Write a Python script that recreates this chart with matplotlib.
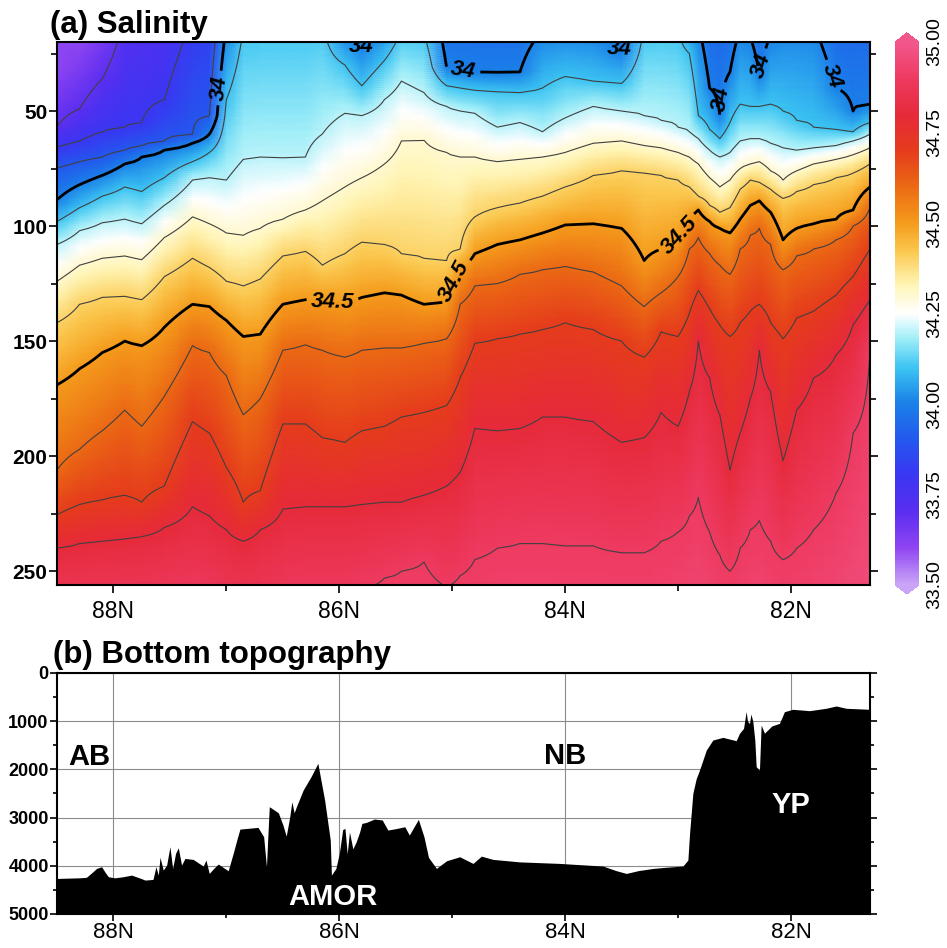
import numpy as np
import matplotlib.pyplot as plt
from matplotlib.colors import LinearSegmentedColormap

plt.rcParams['font.family'] = ['Liberation Sans', 'DejaVu Sans']

# station latitudes along the section (deg N)
lat_st = [88.5, 88.3, 88.1, 87.9, 87.75, 87.55, 87.3, 87.15, 87.0, 86.85,
          86.7, 86.5, 86.3, 86.15, 85.95, 85.8, 85.6, 85.45, 85.25, 85.05,
          84.93, 84.8, 84.6, 84.4, 84.2, 84.0, 83.75, 83.5, 83.3, 83.15,
          83.0, 82.9, 82.82, 82.72, 82.63, 82.54, 82.45, 82.36, 82.28, 82.18,
          82.07, 81.95, 81.8, 81.6, 81.45, 81.3]

# depth (m) of each isohaline at every station;
# values above 20 m or below 256 m are outside the plotted window
z336 = [30, 20, 5, -10, -20, -30, -40, -45, -50, -50,
        -50, -50, -50, -50, -50, -50, -50, -50, -50, -50,
        -50, -50, -50, -50, -50, -50, -50, -50, -50, -50,
        -50, -50, -50, -50, -50, -50, -50, -50, -50, -50,
        -50, -50, -50, -50, -50, -50]
z337 = [57, 49, 36, 8, 0, -10, -20, -30, -40, -40,
        -40, -40, -40, -40, -40, -40, -40, -40, -40, -40,
        -40, -40, -40, -40, -40, -40, -40, -40, -40, -40,
        -40, -40, -40, -40, -40, -40, -40, -40, -40, -40,
        -40, -40, -40, -40, -40, -40]
z338 = [65.6, 63, 59, 57, 55, 45, 8, 0, -20, -25,
        -25, -25, -25, -25, -25, -25, -25, -25, -25, -25,
        -25, -25, -25, -25, -25, -25, -25, -25, -25, -25,
        -25, -25, -25, -25, -25, -25, -25, -25, -25, -25,
        -25, -25, -25, -25, -25, -25]
z339 = [74.7, 72, 70, 67, 65, 63, 60, 52, 5, -10,
        -10, -10, -10, -10, -10, -10, -10, -10, -10, -10,
        -10, -10, -10, -10, -10, -10, -10, -10, -10, -10,
        -10, -10, -10, -10, -10, -10, -10, -10, -10, -10,
        -10, -10, -10, -10, -10, -10]
z340 = [88.6, 82, 78, 73, 70, 67, 64, 60, 12, 2,
        2, 2, 2, 2, 16, 22, 12, 5, 12, 31,
        32, 33, 33.5, 33, 15, 14, 16, 24, 8, 5,
        5, 8, 12, 40, 52, 33, 14, 18, 34, 17,
        12, 10, 12, 40, 50, 47]
z341 = [98, 92, 87, 83, 85, 79, 72, 68, 45, 14,
        12, 12, 12, 10, 30, 39, 28, 15, 16, 39,
        40, 41, 41.5, 42, 40, 35, 37, 38, 14, 12,
        14, 25, 52, 58, 62, 55, 47, 48, 48, 47,
        50, 54, 57, 58, 59, 55]
z342 = [108, 102, 98.5, 97, 99, 91, 80, 79, 80, 71,
        70, 70.5, 70, 60, 51, 52, 45, 37, 42, 48,
        50, 51, 57, 55, 59, 53, 48, 50, 52, 54,
        57, 59, 62, 67, 70, 68, 63, 62, 62, 64,
        66, 67, 66, 65, 63, 60]
z343 = [124, 117, 114, 113, 114.6, 105, 96, 99, 103, 104,
        101, 97, 93, 89, 83, 79, 73, 63, 62.6, 68,
        70, 70, 72, 71, 70, 68, 64, 63, 65, 66,
        68, 70, 73, 79, 83, 80, 75, 73, 72, 76,
        80, 76, 73, 71, 69, 66]
z344 = [142, 134, 131, 130.5, 132, 122, 114, 118, 124, 126,
        123, 113, 111, 117, 112, 107, 108, 112, 114, 115,
        110, 96, 92, 90, 87, 83, 78, 76, 77, 78,
        80, 83, 87, 91, 94, 92, 84, 80, 81, 84,
        88, 85, 82, 79, 77, 73]
z345 = [169, 162, 155, 150, 152, 144, 134, 135, 141, 148,
        147, 134, 132, 132, 134, 131, 129, 130, 134, 133,
        119, 112, 108, 106, 103, 99.5, 99, 101, 115, 110,
        106, 97, 93, 98, 101, 103, 97, 91, 89, 94,
        106, 101, 99, 97, 93, 83]
z346 = [206, 197, 189, 180, 187, 174, 152, 155, 165, 182,
        175, 154, 151.5, 154, 157, 154, 153, 153, 151, 149,
        134, 126, 125, 121, 119, 117.5, 120, 126, 135, 129,
        122, 110, 105, 112, 117, 121, 110, 104, 101, 108,
        119, 113, 110, 106, 100, 92]
z347 = [225.5, 221, 219, 217, 220, 213, 185, 190, 205, 220,
        215, 186, 186, 192, 194, 189, 187, 183, 181, 178,
        166, 151, 149, 147, 145, 142, 145, 150, 157, 146,
        148, 138, 128, 136, 143, 148, 142, 137, 134, 142,
        149, 140, 137, 130, 122, 110]
z348 = [240, 238, 237, 236, 235, 231, 222, 226, 232, 237,
        232, 223, 222, 222, 222, 221, 220, 220, 217, 213,
        207, 188, 189, 188, 183, 183, 185, 194, 192, 181,
        187, 172, 150, 166, 182, 206, 190, 175, 154, 172,
        202, 180, 166, 156, 143, 132]
z349 = [268, 266, 266, 266, 266, 264, 262, 264, 268, 272,
        268, 264, 262, 262, 262, 258, 253, 250, 246, 257,
        252, 245, 240, 238, 238, 239, 239, 242, 242, 237,
        233, 226, 218, 233, 243, 250, 240, 232, 228, 237,
        245, 240, 232, 216, 190, 154]
z350 = 330  # 35.0 is never reached inside the window

iso_levels = [33.6, 33.7, 33.8, 33.9, 34.0, 34.1, 34.2, 34.3, 34.4,
              34.5, 34.6, 34.7, 34.8, 34.9, 35.0]

# bottom topography along the section
bathy_lat = [88.5, 88.3, 88.24, 88.18, 88.15, 88.105, 88.07, 88.045, 87.99, 87.92,
             87.84, 87.76, 87.72, 87.65, 87.624, 87.603, 87.588, 87.559, 87.529, 87.5,
             87.476, 87.45, 87.426, 87.397, 87.367, 87.294, 87.205, 87.181, 87.152, 87.11,
             87.072, 86.984, 86.94, 86.9, 86.88, 86.72, 86.67, 86.645, 86.635, 86.62,
             86.54, 86.5, 86.47, 86.44, 86.42, 86.4, 86.38, 86.32, 86.25, 86.19,
             86.13, 86.08, 86.07, 86.03, 86.0, 85.97, 85.95, 85.93, 85.91, 85.88,
             85.85, 85.82, 85.8, 85.76, 85.69, 85.62, 85.57, 85.5, 85.42, 85.38,
             85.3, 85.25, 85.21, 85.14, 85.05, 84.934, 84.816, 84.742, 84.639, 84.4,
             84.049, 83.85, 83.665, 83.55, 83.458, 83.35, 83.22, 83.1, 82.957, 82.913,
             82.898, 82.869, 82.84, 82.81, 82.75, 82.692, 82.603, 82.485, 82.456, 82.42,
             82.397, 82.385, 82.367, 82.355, 82.338, 82.32, 82.308, 82.279, 82.264, 82.235,
             82.17, 82.102, 82.058, 81.984, 81.836, 81.69, 81.6, 81.51, 81.3]
bathy_depth = [4263, 4250, 4240, 4120, 4055, 4020, 4150, 4228, 4250, 4230,
               4194, 4260, 4297, 4283, 4020, 4194, 3827, 4090, 3986, 3605,
               4055, 3744, 3626, 3986, 3848, 3868, 4007, 3882, 4159, 4050,
               3965, 4104, 3744, 3400, 3239, 3204, 3398, 4020, 3500, 2775,
               2900, 3150, 3384, 3000, 2671, 2900, 2775, 2429, 2150, 1875,
               2637, 3467, 4194, 4055, 3744, 3250, 3225, 3750, 3300, 3650,
               3500, 3300, 3121, 3100, 3031, 3050, 3259, 3230, 3190, 3363,
               3038, 3400, 3827, 4055, 3896, 3813, 3951, 3800, 3868, 3920,
               3951, 3980, 4006, 4100, 4159, 4100, 4055, 4030, 4006, 3882,
               3329, 2498, 2200, 2014, 1600, 1391, 1336, 1405, 1252, 1150,
               803, 1000, 1050, 850, 1000, 1400, 1944, 2014, 1080, 1250,
               1100, 1045, 803, 754, 782, 733, 685, 733, 754]

# ---- build salinity field from the isohaline depths ----
iso = np.array([z336, z337, z338, z339, z340, z341, z342, z343, z344,
                z345, z346, z347, z348, z349, [z350] * len(lat_st)], dtype=float)
zgrid = np.arange(20, 257, 1.0)
sal = np.empty((len(zgrid), len(lat_st)))
for j in range(len(lat_st)):
    sal[:, j] = np.interp(zgrid, iso[:, j], iso_levels)
LAT, Z = np.meshgrid(lat_st, zgrid)

nodes = [33.50, 33.60, 33.70, 33.80, 33.90, 34.00, 34.10, 34.18, 34.25,
         34.33, 34.42, 34.50, 34.60, 34.70, 34.80, 34.90, 35.00]
cols = ['#c9a4f7', '#8f45f2', '#5b2ef0', '#3a36f2', '#2458ee', '#1a80e8',
        '#3cc4f2', '#a0eef8', '#ffffff', '#fff5b5', '#fbc950', '#f59c1c',
        '#eb6a14', '#e53c1c', '#e62a3a', '#ee3a60', '#f2578c']
cmap = LinearSegmentedColormap.from_list(
    'sal', [((v - 33.5) / 1.5, c) for v, c in zip(nodes, cols)])

fig = plt.figure(figsize=(9.47, 9.48), dpi=100)
ax1 = fig.add_axes([0.0602, 0.3829, 0.8585, 0.5728])
ax2 = fig.add_axes([0.0602, 0.0359, 0.8585, 0.2542])
cax = fig.add_axes([0.9451, 0.3734, 0.0253, 0.5918])

# (a) salinity section
pm = ax1.pcolormesh(LAT, Z, sal, cmap=cmap, vmin=33.5, vmax=35.0,
                    shading='gouraud', rasterized=True)
thin = [33.7, 33.8, 33.9, 34.1, 34.2, 34.3, 34.4, 34.6, 34.7, 34.8, 34.9]
ax1.contour(LAT, Z, sal, levels=thin, colors='0.25', linewidths=0.8)
cs = ax1.contour(LAT, Z, sal, levels=[34.0, 34.5], colors='black',
                 linewidths=2.0)
label_pos = [(87.06, 40), (85.88, 24), (84.9, 31), (83.54, 24), (82.6, 45),
             (82.27, 30), (81.64, 35), (86.06, 134), (84.93, 125), (83.0, 104)]
txts = ax1.clabel(cs, fmt={34.0: '34', 34.5: '34.5'}, manual=label_pos,
                  inline=True, fontsize=16)
for t in txts:
    t.set_fontweight('bold')
    t.set_fontstyle('italic')

ax1.set_xlim(88.5, 81.3)
ax1.set_ylim(256, 20)
ax1.set_xticks([88, 86, 84, 82])
ax1.set_xticklabels(['88N', '86N', '84N', '82N'])
ax1.set_xticks([87, 85, 83], minor=True)
ax1.set_yticks([50, 100, 150, 200, 250])
ax1.set_yticks([25, 75, 125, 175, 225], minor=True)
ax1.tick_params(which='both', direction='out', right=True, width=1.2)
ax1.tick_params(which='major', length=6)
ax1.tick_params(which='minor', length=4)
ax1.tick_params(axis='y', labelsize=15, pad=1)
ax1.tick_params(axis='x', labelsize=16.5, pad=5)
for lab in ax1.get_yticklabels():
    lab.set_fontweight('bold')
for sp in ax1.spines.values():
    sp.set_linewidth(1.5)

cb = fig.colorbar(pm, cax=cax, extend='both', extendfrac=0.0166,
                  ticks=[33.5, 33.75, 34.0, 34.25, 34.5, 34.75, 35.0],
                  format='%.2f')
cb.outline.set_visible(False)
cb.ax.tick_params(length=0, labelsize=14, pad=5)
for t in cb.ax.get_yticklabels():
    t.set_rotation(90)
    t.set_va('center')

fig.text(0.0528, 0.9652, '(a) Salinity', fontsize=22.5, fontweight='bold',
         va='baseline', ha='left')

# (b) bottom topography
ax2.set_axisbelow(True)
ax2.grid(True, which='major', color='0.55', linewidth=0.8)
ax2.fill_between(bathy_lat, bathy_depth, 5000, color='black', linewidth=0)
ax2.set_xlim(88.5, 81.3)
ax2.set_ylim(5000, 0)
ax2.set_xticks([88, 86, 84, 82])
ax2.set_xticklabels(['88N', '86N', '84N', '82N'])
ax2.set_xticks([87, 85, 83], minor=True)
ax2.set_yticks([0, 1000, 2000, 3000, 4000, 5000])
ax2.set_yticks([500, 1500, 2500, 3500, 4500], minor=True)
ax2.tick_params(which='both', direction='out', right=True, width=1.2)
ax2.tick_params(which='major', length=5)
ax2.tick_params(which='minor', length=3)
ax2.tick_params(axis='y', labelsize=13, pad=1)
ax2.tick_params(axis='x', labelsize=16, pad=1)
for lab in ax2.get_yticklabels():
    lab.set_fontweight('bold')
for sp in ax2.spines.values():
    sp.set_linewidth(1.5)

ax2.text(88.21, 1736, 'AB', ha='center', va='center', fontsize=21,
         fontweight='bold')
ax2.text(84.0, 1716, 'NB', ha='center', va='center', fontsize=21,
         fontweight='bold')
ax2.text(82.0, 2739, 'YP', ha='center', va='center', fontsize=21,
         fontweight='bold', color='white')
ax2.text(86.06, 4641, 'AMOR', ha='center', va='center', fontsize=21,
         fontweight='bold', color='white')

fig.text(0.056, 0.3006, '(b) Bottom topography', fontsize=22.5,
         fontweight='bold', va='baseline', ha='left')

fig.savefig('out.png', dpi=100)
